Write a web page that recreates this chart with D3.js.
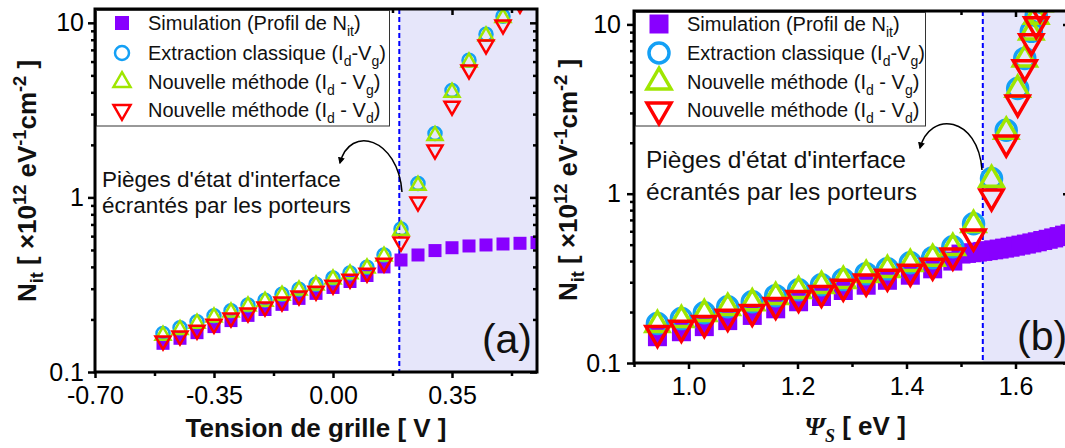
<!DOCTYPE html>
<html><head><meta charset="utf-8">
<script src="https://cdn.jsdelivr.net/npm/d3@7"></script>
<style>
body{margin:0;background:#fff;overflow:hidden;}
svg{display:block;font-family:"Liberation Sans",Arial,sans-serif;}
</style></head><body>
<svg id="chart" width="1065" height="448"></svg>
<script>
// ---------- Panel (a) data : Nit vs gate voltage ----------
const vgA      = [-0.50,-0.45,-0.40,-0.35,-0.30,-0.25,-0.20,-0.15,-0.10,-0.05,0.00,0.05,0.10,0.15,0.20,0.25,0.30,0.35,0.40,0.45,0.50,0.55];
const extractA = [0.166,0.179,0.194,0.210,0.224,0.242,0.258,0.279,0.298,0.318,0.345,0.369,0.398,0.468,0.660,1.20,2.32,4.10,6.10,8.60,10.9,13.2];
const nouvVgA  = [0.162,0.175,0.190,0.206,0.220,0.238,0.254,0.275,0.294,0.314,0.340,0.364,0.393,0.460,0.648,1.17,2.26,4.00,5.95,8.40,10.7,13.0];
const nouvVdA  = [0.151,0.161,0.174,0.188,0.204,0.218,0.236,0.252,0.273,0.291,0.315,0.341,0.369,0.421,0.556,0.942,1.87,3.34,5.38,7.48,9.75,12.8];
const simXA    = [-0.50,-0.45,-0.40,-0.35,-0.30,-0.25,-0.20,-0.15,-0.10,-0.05,0.00,0.05,0.10,0.15,0.20,0.25,0.30,0.35,0.40,0.45,0.50,0.55,0.60];
const simA     = [0.146,0.156,0.168,0.182,0.197,0.211,0.228,0.244,0.264,0.282,0.305,0.330,0.357,0.400,0.438,0.468,0.496,0.515,0.527,0.534,0.541,0.546,0.551];
const xTicksA  = [-0.70,-0.35,0.00,0.35];
const xMinorA  = [-0.525,-0.175,0.175,0.525];

// ---------- Panel (b) data : Nit vs surface potential ----------
const psiB     = [0.943,0.987,1.029,1.072,1.117,1.160,1.202,1.244,1.284,1.326,1.365,1.407,1.448,1.485,1.523,1.556,1.583,1.604,1.617,1.629,1.638,1.645];
const extractB = [0.171,0.183,0.198,0.215,0.230,0.250,0.271,0.290,0.311,0.337,0.360,0.391,0.419,0.486,0.665,1.23,2.37,4.18,6.30,9.10,11.3,13.5];
const nouvVgB  = [0.168,0.180,0.195,0.212,0.226,0.246,0.267,0.286,0.306,0.332,0.355,0.385,0.413,0.479,0.655,1.21,2.33,4.12,6.21,8.97,11.1,13.2];
const nouvVdB  = [0.150,0.161,0.172,0.187,0.200,0.220,0.242,0.259,0.282,0.302,0.323,0.345,0.375,0.430,0.557,0.960,2.00,3.45,5.57,7.93,10.0,12.4];
const simXB    = [0.943,0.987,1.029,1.072,1.117,1.160,1.202,1.244,1.284,1.326,1.365,1.407,1.448,1.485,1.50,1.51,1.52,1.53,1.54,1.55,1.56,1.57,1.58,1.59,1.60,1.61,1.62,1.63,1.64,1.65,1.66,1.67,1.68,1.69,1.70];
const simB     = [0.143,0.153,0.164,0.178,0.191,0.209,0.230,0.247,0.268,0.288,0.308,0.330,0.360,0.400,0.440,0.444,0.448,0.452,0.456,0.461,0.466,0.471,0.477,0.483,0.490,0.497,0.504,0.512,0.520,0.529,0.538,0.548,0.558,0.569,0.580];
const xTicksB  = [1.0,1.2,1.4,1.6];
const xMinorB  = [0.9,1.1,1.3,1.5,1.7];

// ---------- shared ----------
const yDomain  = [0.1, 12];
const yTicks   = [0.1, 1, 10];
const yMinor   = [0.2,0.3,0.4,0.5,0.6,0.7,0.8,0.9,2,3,4,5,6,7,8,9];
const legendLabels = [
  [["Simulation (Profil de N","n"],["it","sub"],[")","n"]],
  [["Extraction classique (I","n"],["d","sub"],["-V","n"],["g","sub"],[")","n"]],
  [["Nouvelle méthode (I","n"],["d","sub"],[" - V","n"],["g","sub"],[")","n"]],
  [["Nouvelle méthode (I","n"],["d","sub"],[" - V","n"],["d","sub"],[")","n"]]
];
const COL = {sim:"#8800ff", ext:"#14a0f5", nvg:"#9fe600", nvd:"#ff0000", shade:"#e6e6fa", dash:"#0000ff"};

const svg = d3.select("#chart");
const defs = svg.append("defs");
defs.append("marker").attr("id","arrowhead").attr("viewBox","0 0 10 10").attr("refX",8).attr("refY",5)
  .attr("markerWidth",7).attr("markerHeight",7).attr("orient","auto").attr("markerUnits","userSpaceOnUse")
  .append("path").attr("d","M0,0 L10,5 L0,10 Z").attr("fill","#000");

function rich(textSel, parts, fs) {
  const sh = fs*0.28;
  let cur = 0;
  parts.forEach(([t,k])=>{
    const ts = textSel.append("tspan").text(t);
    let target = 0;
    if (k==="sub") { target = sh; ts.attr("font-size", fs*0.7); }
    else if (k==="sup") { target = -fs*0.38; ts.attr("font-size", fs*0.7); }
    ts.attr("dy", target-cur);
    cur = target;
  });
}

function triSize(w){ return w*w*Math.sqrt(3)/4; }
const hyphen = f => d => f(d).replace("\u2212","-");

function drawPanel(p) {
  const g = svg.append("g");
  const x = d3.scaleLinear().domain(p.xDomain).range(p.xRange);
  const y = d3.scaleLog().domain(yDomain).range(p.yRange);
  const [x0,x1] = p.xRange, [yb,yt] = p.yRange;

  defs.append("clipPath").attr("id",p.id+"clip").append("rect")
    .attr("x",x0).attr("y",yt).attr("width",x1-x0).attr("height",yb-yt);
  const plot = g.append("g").attr("clip-path",`url(#${p.id}clip)`);

  plot.append("rect").attr("x",x(p.split)).attr("y",yt).attr("width",x1-x(p.split)).attr("height",yb-yt).attr("fill",COL.shade);
  plot.append("line").attr("x1",x(p.split)).attr("x2",x(p.split)).attr("y1",yt).attr("y2",yb)
    .attr("stroke",COL.dash).attr("stroke-width",2).attr("stroke-dasharray","5,3");

  const m = p.mk;
  plot.selectAll(".sq").data(d3.zip(p.simX,p.simY)).join("path")
    .attr("transform",d=>`translate(${x(d[0])},${y(d[1])})`)
    .attr("d",d3.symbol(d3.symbolSquare, m.sq*m.sq)).attr("fill",COL.sim);
  plot.selectAll(".ci").data(d3.zip(p.X,p.ext)).join("circle")
    .attr("cx",d=>x(d[0])).attr("cy",d=>y(d[1])).attr("r",m.r)
    .attr("fill","none").attr("stroke",COL.ext).attr("stroke-width",m.sw);
  plot.selectAll(".tu").data(d3.zip(p.X,p.nvg)).join("path")
    .attr("transform",d=>`translate(${x(d[0])},${y(d[1])})`)
    .attr("d",d3.symbol(d3.symbolTriangle, triSize(m.tw)))
    .attr("fill","none").attr("stroke",COL.nvg).attr("stroke-width",m.sw);
  plot.selectAll(".td").data(d3.zip(p.X,p.nvd)).join("path")
    .attr("transform",d=>`translate(${x(d[0])},${y(d[1])}) rotate(180)`)
    .attr("d",d3.symbol(d3.symbolTriangle, triSize(m.tw)))
    .attr("fill","none").attr("stroke",COL.nvd).attr("stroke-width",m.sw);

  // axes
  const ax = (axis, tx, ty) => {
    const a = g.append("g").attr("transform",`translate(${tx},${ty})`).call(axis);
    a.select(".domain").remove();
    a.selectAll("line").attr("stroke","#000").attr("stroke-width",2.5);
    a.selectAll("text").attr("font-size",25).attr("fill","#000").attr("font-family","Liberation Sans, Arial, sans-serif");
    return a;
  };
  ax(d3.axisBottom(x).tickValues(p.xTicks).tickSize(6).tickPadding(8).tickFormat(hyphen(p.xFmt)), 0, yb);
  ax(d3.axisBottom(x).tickValues(p.xMinor).tickSize(4).tickFormat(""), 0, yb);
  ax(d3.axisTop(x).tickValues(p.xTicks).tickSize(-6).tickFormat(""), 0, yt);
  ax(d3.axisTop(x).tickValues(p.xMinor).tickSize(-4).tickFormat(""), 0, yt);
  ax(d3.axisLeft(y).tickValues(yTicks).tickSize(7).tickPadding(p.yPad).tickFormat(d3.format("~g")), x0, 0);
  ax(d3.axisLeft(y).tickValues(yMinor).tickSize(4).tickFormat(""), x0, 0);
  ax(d3.axisRight(y).tickValues(yTicks).tickSize(-7).tickFormat(""), x1, 0);
  ax(d3.axisRight(y).tickValues(yMinor).tickSize(-4).tickFormat(""), x1, 0);

  g.append("rect").attr("x",x0).attr("y",yt).attr("width",x1-x0).attr("height",yb-yt)
    .attr("fill","none").attr("stroke","#000").attr("stroke-width",3);

  // legend
  const L = p.leg;
  g.append("rect").attr("x",x0+1.5).attr("y",yt+1.5).attr("width",L.w).attr("height",L.bottom-yt-1.5)
    .attr("fill","#fff").attr("stroke","#333").attr("stroke-width",1);
  const lm = L.mk;
  L.rows.forEach((ry,i)=>{
    const s = g.append("g").attr("transform",`translate(${L.sx},${ry})`);
    if (i===0) s.append("path").attr("d",d3.symbol(d3.symbolSquare, lm.sq*lm.sq)).attr("fill",COL.sim);
    if (i===1) s.append("circle").attr("r",lm.r).attr("fill","none").attr("stroke",COL.ext).attr("stroke-width",lm.sw);
    if (i===2) s.append("path").attr("d",d3.symbol(d3.symbolTriangle, triSize(lm.tw))).attr("fill","none").attr("stroke",COL.nvg).attr("stroke-width",lm.sw);
    if (i===3) s.append("path").attr("transform","rotate(180)").attr("d",d3.symbol(d3.symbolTriangle, triSize(lm.tw))).attr("fill","none").attr("stroke",COL.nvd).attr("stroke-width",lm.sw);
    const t = g.append("text").attr("x",L.tx).attr("y",ry+7).attr("font-size",20).attr("fill","#111");
    rich(t, legendLabels[i], 20);
  });

  // annotation
  const A = p.ann;
  ["Pièges d'état d'interface","écrantés par les porteurs"].forEach((s,i)=>{
    g.append("text").attr("x",A.x).attr("y",A.y+i*A.dy).attr("font-size",A.fs).attr("fill","#111").text(s);
  });
  g.append("path").attr("d",A.arrow).attr("fill","none").attr("stroke","#000").attr("stroke-width",1.5)
    .attr("marker-end","url(#arrowhead)");

  // panel label
  g.append("text").attr("x",p.lab.x).attr("y",p.lab.y).attr("text-anchor",p.lab.anchor)
    .attr("font-size",41).attr("fill","#111").text(p.lab.t);

  // y title
  const yt_ = g.append("text").attr("transform",`translate(${p.yTitle.x},${p.yTitle.y}) rotate(-90)`)
    .attr("text-anchor","middle").attr("font-size",26).attr("font-weight","bold").attr("fill","#111");
  rich(yt_, [["N","n"],["it","sub"],[" [ ×10","n"],["12","sup"],[" eV","n"],["-1","sup"],["cm","n"],["-2","sup"],[" ]","n"]], 26);

  return {x,y,g};
}

const pA = drawPanel({
  id:"a", xDomain:[-0.70,0.60], xRange:[95,537], yRange:[372,9], split:0.195,
  X:vgA, ext:extractA, nvg:nouvVgA, nvd:nouvVdA, simX:simXA, simY:simA,
  xTicks:xTicksA, xMinor:xMinorA, xFmt:d3.format(".2f"), yPad:4,
  mk:{sq:13, r:6.5, tw:15, sw:2.5},
  leg:{w:293, bottom:126, sx:122, tx:148, rows:[23,53,82,110], mk:{sq:14, r:7, tw:17, sw:2.5}},
  ann:{x:102, y:187, dy:26, fs:22.5, arrow:"M402,192 C398,138 350,124 340,163"},
  lab:{x:532, y:353, anchor:"end", t:"(a)"},
  yTitle:{x:36, y:181}
});
pA.g.append("text").attr("x",316).attr("y",437).attr("text-anchor","middle").attr("font-size",26)
  .attr("font-weight","bold").attr("fill","#111").text("Tension de grille [ V ]");

const pB = drawPanel({
  id:"b", xDomain:[0.9,1.7], xRange:[634,1070], yRange:[363,11], split:1.54,
  X:psiB, ext:extractB, nvg:nouvVgB, nvd:nouvVdB, simX:simXB, simY:simB,
  xTicks:xTicksB, xMinor:xMinorB, xFmt:d3.format(".1f"), yPad:6,
  mk:{sq:19, r:10, tw:23, sw:3.5},
  leg:{w:290, bottom:126, sx:659, tx:687, rows:[24,53,82,110], mk:{sq:19, r:10, tw:24, sw:3.5}},
  ann:{x:646, y:168, dy:32, fs:24.5, arrow:"M982,170 C978,116 930,110 920,148"},
  lab:{x:1017, y:350, anchor:"start", t:"(b)"},
  yTitle:{x:577, y:180}
});
const xt = pB.g.append("text").attr("x",855).attr("y",435).attr("text-anchor","middle").attr("font-size",26)
  .attr("font-weight","bold").attr("fill","#111");
xt.append("tspan").attr("font-family","Liberation Serif, serif").attr("font-style","italic").text("Ψ");
xt.append("tspan").attr("font-family","Liberation Serif, serif").attr("font-style","italic").attr("font-size",18).attr("dy",7).text("S");
xt.append("tspan").attr("dy",-7).text(" [ eV ]");
</script>
</body></html>
